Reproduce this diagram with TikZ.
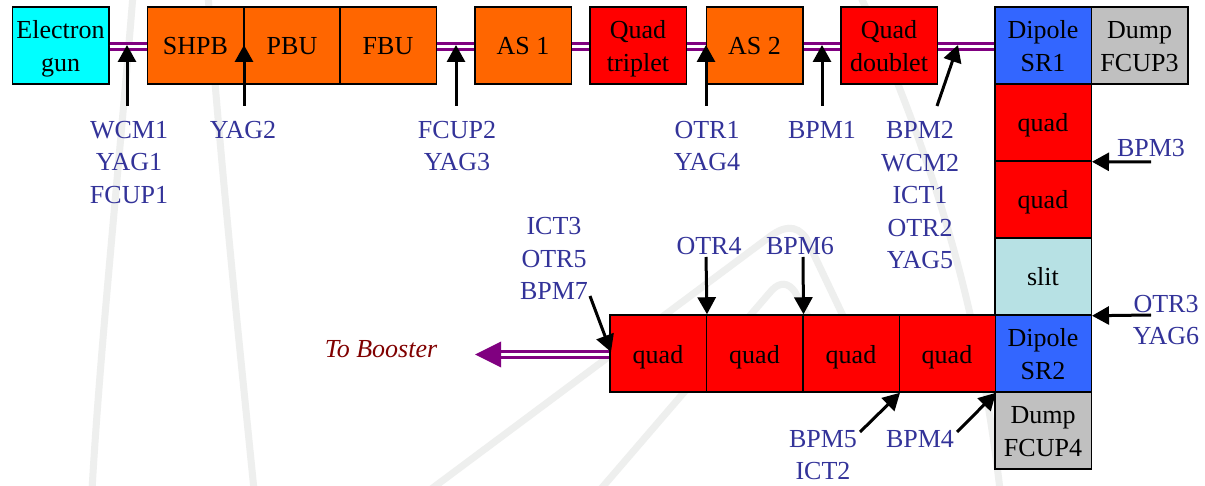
\documentclass[tikz,border=0pt]{standalone}
\usepackage{fontspec}
\setmainfont{Liberation Serif}
\usetikzlibrary{arrows.meta}
\definecolor{cgun}{HTML}{00FFFF}
\definecolor{corange}{HTML}{FF6600}
\definecolor{cred}{HTML}{FF0000}
\definecolor{cblue}{HTML}{3366FF}
\definecolor{cgrey}{HTML}{C0C0C0}
\definecolor{cslit}{HTML}{B7E1E4}
\definecolor{clabel}{HTML}{333399}
\definecolor{cbooster}{HTML}{800000}
\definecolor{cpurple}{HTML}{800080}
\definecolor{cwm}{HTML}{EEEFEE}
\newcommand\boxtop{\rule{0pt}{25pt}}
\newcommand\boxbot{\rule[-6pt]{0pt}{6pt}}
\begin{document}
\begin{tikzpicture}[x=1pt,y=-1pt,
  box/.style={draw=black, line width=1.5pt, minimum width=96.5pt, minimum height=77pt,
    inner sep=0pt, align=center, font=\fontsize{26}{33}\selectfont},
  gunbox/.style={box, fill=cgun},
  orbox/.style={box, fill=corange},
  rdbox/.style={box, fill=cred},
  blbox/.style={box, fill=cblue},
  gybox/.style={box, fill=cgrey},
  slbox/.style={box, fill=cslit},
  pipe/.style={draw=cpurple, line width=3pt, double=white, double distance=3pt},
  sig/.style={draw=black, line width=3pt, -{Triangle[length=17pt,width=18pt]}},
  lab/.style={text=clabel, align=center, inner sep=0pt, font=\fontsize{26}{32.5}\selectfont},
  wm/.style={draw=cwm, line width=7pt, line cap=round}
]
\useasboundingbox (0,0) rectangle (1205,486);
\fill[white] (0,0) rectangle (1205,486);

% faint background watermark
\draw[wm] (133,-5) .. controls (118,180) and (100,350) .. (92,490);
\draw[wm] (208,-5) .. controls (222,180) and (240,350) .. (254,490);
\draw[wm] (860,-5) .. controls (930,150) and (978,300) .. (1000,490);
\draw[wm] (430,490) -- (768,238) .. controls (783,226) and (796,224) .. (806,238) -- (845,320);
\draw[wm] (600,490) -- (772,290) .. controls (780,282) and (788,282) .. (795,292) -- (810,320);

% boxes
\node[gunbox] (gun) at (60.5,45.5) {\boxtop Electron\\gun\boxbot};
\node[orbox] (shpb) at (195.5,45.5) {\boxtop SHPB\boxbot};
\node[orbox] (pbu) at (292,45.5) {\boxtop PBU\boxbot};
\node[orbox] (fbu) at (388,45.5) {\boxtop FBU\boxbot};
\node[orbox] (as1) at (523,45.5) {\boxtop AS 1\boxbot};
\node[rdbox] (qt) at (638,45.5) {\boxtop Quad\\triplet\boxbot};
\node[orbox] (as2) at (754.5,45.5) {\boxtop AS 2\boxbot};
\node[rdbox] (qd) at (889,45.5) {\boxtop Quad\\doublet\boxbot};
\node[blbox] (sr1) at (1043,45.5) {\boxtop Dipole\\SR1\boxbot};
\node[gybox] (d3) at (1139.5,45.5) {\boxtop Dump\\FCUP3\boxbot};
\node[rdbox] (vq1) at (1043,122.5) {\boxtop quad\boxbot};
\node[rdbox] (vq2) at (1043,199.5) {\boxtop quad\boxbot};
\node[slbox] (slit) at (1043,276.5) {\boxtop slit\boxbot};
\node[blbox] (sr2) at (1043,353.5) {\boxtop Dipole\\SR2\boxbot};
\node[gybox] (d4) at (1043,430.5) {\boxtop Dump\\FCUP4\boxbot};
\node[rdbox] (hq4) at (947,353.5) {\boxtop quad\boxbot};
\node[rdbox] (hq3) at (851,353.5) {\boxtop quad\boxbot};
\node[rdbox] (hq2) at (754.5,353.5) {\boxtop quad\boxbot};
\node[rdbox] (hq1) at (658,353.5) {\boxtop quad\boxbot};

% pipes between boxes
\draw[pipe] (gun.east |- 0,46.5) -- (shpb.west |- 0,46.5);
\draw[pipe] (fbu.east |- 0,46.5) -- (as1.west |- 0,46.5);
\draw[pipe] (as1.east |- 0,46.5) -- (qt.west |- 0,46.5);
\draw[pipe] (qt.east |- 0,46.5) -- (as2.west |- 0,46.5);
\draw[pipe] (as2.east |- 0,46.5) -- (qd.west |- 0,46.5);
\draw[pipe] (qd.east |- 0,46.5) -- (sr1.west |- 0,46.5);

% To Booster
\coordinate (bhead) at (500,354.5);
\draw[pipe] (hq1.west |- 0,354.5) -- (bhead);
\fill[cpurple] (475,354.5) -- (501,341.5) -- (501,367.5) -- cycle;
\node[text=cbooster, inner sep=0pt, font=\fontsize{26}{32}\selectfont\itshape] (tb) at (381,349) {To Booster};

% labels
\node[lab] (l1) at (129,162.5) {WCM1\\YAG1\\FCUP1};
\node[lab] (l2) at (243,130) {YAG2};
\node[lab] (l3) at (457,146) {FCUP2\\YAG3};
\node[lab] (l4) at (707,146) {OTR1\\YAG4};
\node[lab] (l5) at (822,130) {BPM1};
\node[lab] (l6) at (920,195.5) {BPM2\\WCM2\\ICT1\\OTR2\\YAG5};
\node[lab] (l7) at (1151,148.5) {BPM3};
\node[lab] (l8) at (1166,320) {OTR3\\YAG6};
\node[lab] (l9) at (554,258.5) {ICT3\\OTR5\\BPM7};
\node[lab] (l10) at (709,246.5) {OTR4};
\node[lab] (l11) at (800,246.5) {BPM6};
\node[lab] (l12) at (823,455) {BPM5\\ICT2};
\node[lab] (l13) at (920,439) {BPM4};

% monitor arrows
\coordinate (a1s) at (127,106); \coordinate (a1e) at (127,45);
\coordinate (a2s) at (244,106); \coordinate (a2e) at (244,45);
\coordinate (a3s) at (456,106); \coordinate (a3e) at (456,45);
\coordinate (a4s) at (706,106); \coordinate (a4e) at (706,45);
\coordinate (a5s) at (822,106); \coordinate (a5e) at (822,45);
\coordinate (a6s) at (937,106); \coordinate (a6e) at (958,45);
\coordinate (a7s) at (1151,162);
\coordinate (a8s) at (1151,315);
\coordinate (a9s) at (590,296); \coordinate (a9e) at (611,352);
\coordinate (a10s) at (706,257);
\coordinate (a11s) at (803,257);
\coordinate (a12s) at (860,432);
\coordinate (a13s) at (957,432);

\draw[sig] (a1s) -- (a1e);
\draw[sig] (a2s) -- (a2e);
\draw[sig] (a3s) -- (a3e);
\draw[sig] (a4s) -- (a4e);
\draw[sig] (a5s) -- (a5e);
\draw[sig] (a6s) -- (a6e);
\draw[sig] (a7s) -- (vq1.south east);
\draw[sig] (a8s) -- (slit.south east);
\draw[sig] (a9s) -- (a9e);
\draw[sig] (a10s) -- (hq1.north east);
\draw[sig] (a11s) -- (hq2.north east);
\draw[sig] (a12s) -- (hq3.south east);
\draw[sig] (a13s) -- (hq4.south east);
\end{tikzpicture}
\end{document}
